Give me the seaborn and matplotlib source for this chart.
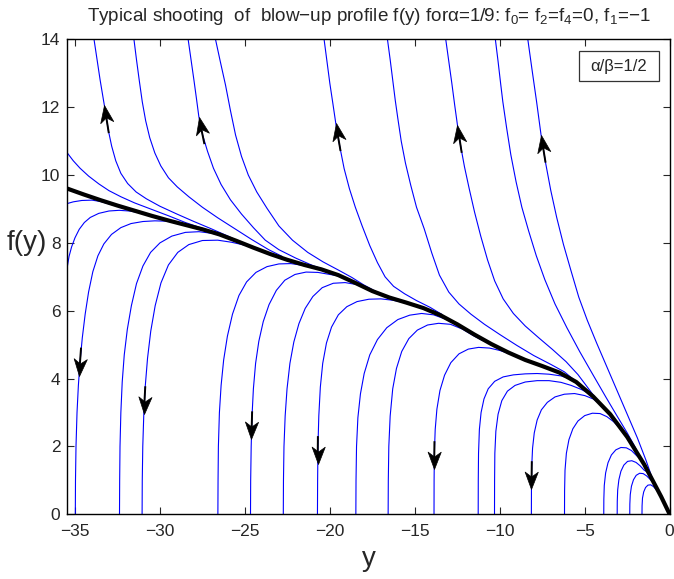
import numpy as np
import pandas as pd
import matplotlib
matplotlib.use("Agg")
import matplotlib.pyplot as plt
import seaborn as sns
from matplotlib.patches import Rectangle
from matplotlib.path import Path
from matplotlib.markers import MarkerStyle
from matplotlib.transforms import Affine2D

# separatrix (thick black profile) as (y, f) pairs
black = [(-35.45, 9.60), (-34.5, 9.43), (-33.5, 9.26), (-32.5, 9.10), (-31.5, 8.95),
         (-30.5, 8.80), (-29.5, 8.66), (-28.5, 8.53), (-27.5, 8.40), (-26.5, 8.25),
         (-25.5, 8.06), (-24.5, 7.86), (-23.5, 7.67), (-22.5, 7.50), (-21.5, 7.35),
         (-20.5, 7.22), (-19.5, 7.05), (-18.5, 6.82), (-17.5, 6.58), (-16.5, 6.39),
         (-15.5, 6.24), (-14.5, 6.08), (-13.5, 5.87), (-12.5, 5.60), (-11.5, 5.30),
         (-10.5, 5.02), (-9.5, 4.77), (-8.5, 4.55), (-7.5, 4.37), (-6.5, 4.18),
         (-5.5, 3.90), (-4.5, 3.47), (-3.5, 2.95), (-2.5, 2.28), (-1.5, 1.47),
         (-0.5, 0.52), (0.0, 0.0)]

# shooting curves that blow up (leave through the top / left edge)
u1 = [(-35.45, 10.65), (-35.1, 10.42), (-34.7, 10.2), (-34.2, 9.97), (-33.6, 9.74),
      (-33.0, 9.54), (-32.3, 9.36), (-31.5, 9.18), (-30.5, 8.99), (-29.5, 8.8),
      (-28.5, 8.6), (-27.5, 8.43), (-26.5, 8.26)]
u2 = [(-33.88, 14.0), (-33.7, 13.4), (-33.52, 12.8), (-33.27, 12.05), (-33.03, 11.3),
      (-32.84, 10.85), (-32.6, 10.42), (-32.3, 10.05), (-31.9, 9.75), (-31.4, 9.5),
      (-30.8, 9.3), (-30.0, 9.08), (-29.0, 8.85), (-28.0, 8.63), (-27.0, 8.42),
      (-26.0, 8.2), (-25.5, 8.08)]
u3 = [(-31.53, 14.0), (-31.38, 13.4), (-31.22, 12.8), (-31.04, 12.16), (-30.84, 11.6),
      (-30.6, 11.1), (-30.3, 10.65), (-29.95, 10.27), (-29.5, 9.92), (-28.98, 9.65),
      (-28.3, 9.36), (-27.5, 9.05), (-26.6, 8.74), (-25.6, 8.42), (-24.6, 8.1),
      (-23.6, 7.8), (-22.8, 7.6)]
u4 = [(-28.34, 14.0), (-28.17, 13.4), (-28.0, 12.8), (-27.85, 12.25), (-27.71, 11.72),
      (-27.5, 11.2), (-27.2, 10.7), (-26.85, 10.2), (-26.4, 9.72), (-25.85, 9.27),
      (-25.2, 8.85), (-24.5, 8.45), (-23.8, 8.08), (-23.0, 7.8), (-22.0, 7.55),
      (-21.0, 7.33), (-20.2, 7.19)]
u5 = [(-26.73, 14.0), (-26.45, 13.35), (-26.14, 12.65), (-25.85, 11.9), (-25.55, 11.18),
      (-25.2, 10.55), (-24.8, 10.0), (-24.3, 9.5), (-23.7, 9.02), (-23.0, 8.5),
      (-22.2, 8.08), (-21.3, 7.72), (-20.4, 7.44), (-19.5, 7.2), (-18.7, 6.98),
      (-18.0, 6.76), (-17.3, 6.57)]
u6 = [(-20.34, 14.0), (-20.17, 13.35), (-20.0, 12.7), (-19.82, 12.1), (-19.65, 11.52),
      (-19.42, 10.85), (-19.16, 10.19), (-18.85, 9.6), (-18.5, 9.05), (-18.1, 8.5),
      (-17.65, 7.92), (-17.2, 7.42), (-16.75, 7.0), (-16.25, 6.72), (-15.6, 6.5),
      (-14.9, 6.3), (-14.1, 6.1), (-13.4, 5.89)]
u7 = [(-16.61, 14.0), (-16.45, 13.4), (-16.3, 12.8), (-16.15, 12.2), (-16.0, 11.67),
      (-15.8, 11.0), (-15.55, 10.35), (-15.24, 9.70), (-14.9, 9.05), (-14.45, 8.42),
      (-14.0, 7.7), (-13.55, 7.05), (-13.0, 6.55), (-12.4, 6.2), (-11.7, 5.9),
      (-10.9, 5.6), (-10.0, 5.3), (-9.0, 4.98), (-8.0, 4.68), (-7.0, 4.42),
      (-6.2, 4.2), (-5.6, 3.95)]
u8 = [(-13.18, 14.0), (-13.0, 13.35), (-12.82, 12.7), (-12.65, 12.05), (-12.49, 11.47),
      (-12.3, 10.85), (-12.08, 10.25), (-11.8, 9.6), (-11.48, 8.9), (-11.12, 8.2),
      (-10.72, 7.5), (-10.3, 6.88), (-9.8, 6.35), (-9.2, 5.92), (-8.5, 5.55),
      (-7.7, 5.2), (-6.9, 4.86), (-6.1, 4.5), (-5.4, 4.12), (-4.8, 3.72), (-4.3, 3.38)]
u9 = [(-10.26, 14.0), (-10.1, 13.35), (-9.95, 12.7), (-9.82, 12.16), (-9.6, 11.4),
      (-9.35, 10.6), (-9.04, 9.8), (-8.7, 9.05), (-8.3, 8.35), (-7.85, 7.62),
      (-7.35, 6.92), (-6.75, 6.2), (-6.05, 5.5), (-5.3, 4.8), (-4.5, 4.1),
      (-3.75, 3.45), (-3.1, 2.9), (-2.5, 2.4), (-2.0, 1.95), (-1.8, 1.73)]
u10 = [(-8.35, 14.0), (-8.1, 13.1), (-7.83, 12.15), (-7.57, 11.18), (-7.3, 10.35),
       (-7.0, 9.55), (-6.65, 8.75), (-6.25, 7.95), (-5.82, 7.2), (-5.35, 6.4),
       (-4.85, 5.72), (-4.3, 5.05), (-3.7, 4.35), (-3.1, 3.65), (-2.5, 2.95),
       (-1.9, 2.25), (-1.4, 1.6), (-1.05, 1.1)]

# shooting curves that fall back to zero
e1 = [(-35.45, 9.16), (-35.1, 9.21), (-34.6, 9.25), (-34.0, 9.26), (-33.5, 9.22),
      (-33.0, 9.15), (-32.5, 9.08)]
e2 = [(-35.45, 7.3), (-35.35, 7.6), (-35.2, 7.88), (-35.0, 8.15), (-34.75, 8.4),
      (-34.45, 8.6), (-34.1, 8.75), (-33.6, 8.87), (-33.0, 8.94), (-32.4, 8.96),
      (-31.8, 8.94), (-31.2, 8.89), (-30.6, 8.81)]
l1 = [(-34.98, 0.0), (-34.97, 1.0), (-34.94, 2.0), (-34.88, 3.0), (-34.8, 3.8),
      (-34.7, 4.5), (-34.57, 5.2), (-34.4, 5.9), (-34.2, 6.55), (-33.95, 7.15),
      (-33.65, 7.62), (-33.3, 7.97), (-32.85, 8.25), (-32.3, 8.45), (-31.7, 8.57),
      (-31.0, 8.63), (-30.3, 8.65), (-29.6, 8.64), (-29.0, 8.6)]
l2 = [(-32.38, 0.0), (-32.37, 1.0), (-32.35, 2.0), (-32.3, 3.0), (-32.22, 3.9),
      (-32.1, 4.7), (-31.92, 5.45), (-31.68, 6.15), (-31.38, 6.8), (-31.0, 7.32),
      (-30.55, 7.72), (-30.0, 8.0), (-29.3, 8.2), (-28.5, 8.31), (-27.7, 8.33),
      (-26.9, 8.28), (-26.2, 8.2)]
l3 = [(-31.05, 0.0), (-31.04, 1.0), (-31.01, 2.0), (-30.95, 2.95), (-30.86, 3.8),
      (-30.73, 4.6), (-30.54, 5.4), (-30.28, 6.15), (-29.94, 6.82), (-29.5, 7.35),
      (-28.95, 7.72), (-28.3, 7.95), (-27.5, 8.07), (-26.6, 8.08), (-25.8, 8.02),
      (-24.7, 7.9)]
l4 = [(-26.59, 0.0), (-26.58, 1.0), (-26.56, 2.0), (-26.5, 3.0), (-26.4, 3.8),
      (-26.25, 4.55), (-26.03, 5.25), (-25.73, 5.9), (-25.35, 6.45), (-24.9, 6.85),
      (-24.35, 7.13), (-23.7, 7.3), (-23.0, 7.38), (-22.3, 7.39), (-21.6, 7.34),
      (-20.9, 7.27), (-20.3, 7.18)]
l5 = [(-24.67, 0.0), (-24.66, 1.0), (-24.63, 2.0), (-24.58, 2.9), (-24.5, 3.7),
      (-24.37, 4.45), (-24.18, 5.1), (-23.92, 5.68), (-23.58, 6.18), (-23.15, 6.6),
      (-22.65, 6.9), (-22.05, 7.07), (-21.4, 7.14), (-20.7, 7.13), (-20.0, 7.07),
      (-19.4, 7.02)]
l6 = [(-22.74, 0.0), (-22.73, 1.0), (-22.7, 2.0), (-22.63, 2.9), (-22.52, 3.7),
      (-22.35, 4.45), (-22.12, 5.08), (-21.82, 5.62), (-21.45, 6.07), (-21.0, 6.42),
      (-20.45, 6.68), (-19.8, 6.81), (-19.1, 6.83), (-18.4, 6.77), (-17.7, 6.6)]
l7 = [(-20.73, 0.0), (-20.72, 1.0), (-20.7, 2.0), (-20.65, 2.9), (-20.56, 3.75),
      (-20.42, 4.45), (-20.2, 5.05), (-19.9, 5.52), (-19.5, 5.88), (-19.0, 6.12),
      (-18.4, 6.27), (-17.7, 6.34), (-17.0, 6.35), (-16.3, 6.31), (-15.6, 6.24),
      (-15.0, 6.16)]
l8 = [(-18.47, 0.0), (-18.46, 1.0), (-18.43, 2.0), (-18.35, 2.85), (-18.2, 3.55),
      (-17.98, 4.15), (-17.65, 4.7), (-17.2, 5.15), (-16.65, 5.5), (-16.0, 5.74),
      (-15.3, 5.87), (-14.6, 5.92), (-13.9, 5.88), (-13.0, 5.72)]
l9 = [(-16.57, 0.0), (-16.56, 1.0), (-16.53, 2.0), (-16.45, 2.9), (-16.3, 3.7),
      (-16.08, 4.3), (-15.77, 4.8), (-15.35, 5.18), (-14.85, 5.43), (-14.25, 5.58),
      (-13.6, 5.63), (-12.9, 5.6), (-12.2, 5.46), (-11.6, 5.28), (-11.0, 5.12)]
l10 = [(-13.87, 0.0), (-13.865, 1.0), (-13.85, 1.8), (-13.8, 2.5), (-13.7, 3.1),
       (-13.52, 3.65), (-13.25, 4.1), (-12.88, 4.47), (-12.4, 4.73), (-11.85, 4.87),
       (-11.25, 4.92), (-10.6, 4.9), (-10.0, 4.83), (-9.4, 4.73), (-8.8, 4.6)]
l11 = [(-11.27, 0.0), (-11.265, 1.0), (-11.25, 1.8), (-11.2, 2.5), (-11.1, 3.0),
       (-10.93, 3.4), (-10.68, 3.7), (-10.3, 3.92), (-9.8, 4.05), (-9.2, 4.11),
       (-8.5, 4.14), (-7.8, 4.15), (-7.1, 4.13), (-6.4, 4.08), (-5.8, 3.98)]
l12 = [(-10.31, 0.0), (-10.305, 1.0), (-10.29, 1.8), (-10.23, 2.45), (-10.1, 2.95),
       (-9.88, 3.35), (-9.55, 3.63), (-9.1, 3.8), (-8.5, 3.9), (-7.8, 3.94),
       (-7.1, 3.94), (-6.4, 3.89), (-5.8, 3.8), (-5.2, 3.68), (-4.7, 3.55)]
l13 = [(-8.14, 0.0), (-8.135, 0.8), (-8.12, 1.4), (-8.07, 1.95), (-7.97, 2.4),
       (-7.8, 2.78), (-7.55, 3.08), (-7.2, 3.3), (-6.75, 3.46), (-6.2, 3.54),
       (-5.6, 3.56), (-5.0, 3.5), (-4.5, 3.4), (-4.0, 3.21), (-3.7, 3.05)]
l14 = [(-6.19, 0.0), (-6.185, 0.7), (-6.16, 1.3), (-6.08, 1.8), (-5.93, 2.2),
       (-5.7, 2.52), (-5.4, 2.75), (-5.0, 2.91), (-4.55, 2.98), (-4.1, 2.97),
       (-3.7, 2.88), (-3.3, 2.73), (-2.95, 2.55), (-2.65, 2.39)]
l15 = [(-3.88, 0.0), (-3.875, 0.45), (-3.85, 0.85), (-3.77, 1.22), (-3.63, 1.52),
       (-3.43, 1.75), (-3.17, 1.9), (-2.87, 1.97), (-2.55, 1.96), (-2.25, 1.88),
       (-1.97, 1.74), (-1.6, 1.57)]
l16 = [(-3.09, 0.0), (-3.085, 0.38), (-3.06, 0.72), (-2.99, 1.02), (-2.87, 1.27),
       (-2.7, 1.45), (-2.48, 1.56), (-2.23, 1.58), (-1.98, 1.53), (-1.74, 1.43),
       (-1.5, 1.3), (-1.25, 1.23)]
l17 = [(-2.35, 0.0), (-2.345, 0.3), (-2.32, 0.58), (-2.25, 0.83), (-2.13, 1.02),
       (-1.97, 1.15), (-1.77, 1.21), (-1.56, 1.2), (-1.35, 1.13), (-1.15, 1.03),
       (-0.95, 0.93)]
l18 = [(-1.63, 0.0), (-1.625, 0.25), (-1.6, 0.48), (-1.53, 0.66), (-1.42, 0.79),
       (-1.28, 0.86), (-1.12, 0.87), (-0.96, 0.82), (-0.8, 0.73), (-0.65, 0.64)]

blue_curves = {"u1": u1, "u2": u2, "u3": u3, "u4": u4, "u5": u5, "u6": u6, "u7": u7,
               "u8": u8, "u9": u9, "u10": u10, "e1": e1, "e2": e2, "l1": l1, "l2": l2,
               "l3": l3, "l4": l4, "l5": l5, "l6": l6, "l7": l7, "l8": l8, "l9": l9,
               "l10": l10, "l11": l11, "l12": l12, "l13": l13, "l14": l14, "l15": l15,
               "l16": l16, "l17": l17, "l18": l18}

# arrow heads: which curve, where the tip sits, which way it points
arrow_curve = ["u2", "u4", "u6", "u8", "u10", "l1", "l3", "l5", "l7", "l10", "l13"]
arrow_tip_x = [-33.27, -27.71, -19.65, -12.49, -7.57, -34.76, -30.95, -24.62, -20.72, -13.86, -8.135]
arrow_tip_y = [12.05, 11.72, 11.52, 11.47, 11.18, 4.09, 2.95, 2.21, 1.48, 1.33, 0.74]
arrow_dir = ["up"] * 5 + ["down"] * 6

x_ticks = [-35, -30, -25, -20, -15, -10, -5, 0]
y_ticks = [0, 2, 4, 6, 8, 10, 12, 14]

# notched (matlab-like) arrow head, tip at the origin, pointing to +x
head_path = Path([(0, 0), (-1, 0.38), (-0.72, 0), (-1, -0.38), (0, 0)],
                 [Path.MOVETO, Path.LINETO, Path.LINETO, Path.LINETO, Path.CLOSEPOLY])


def add_arrow(ax, pts, tip, direction, shaft=28, head=17):
    xy = ax.transData.transform(np.array(pts))
    t = ax.transData.transform(tip)
    i = int(np.argmin(np.linalg.norm(xy - t, axis=1)))
    a, b = (i, i + 1) if i + 1 < len(xy) else (i - 1, i)
    v = xy[b] - xy[a]
    v = v / np.linalg.norm(v)
    if (direction == "up") != (v[1] > 0):
        v = -v
    inv = ax.transData.inverted()
    tail = inv.transform(t - v * shaft)
    neck = inv.transform(t - v * head * 0.7)
    ax.plot([tail[0], neck[0]], [tail[1], neck[1]], color="black", lw=1.4,
            solid_capstyle="butt", zorder=5)
    ang = np.degrees(np.arctan2(v[1], v[0]))
    m = MarkerStyle(head_path, transform=Affine2D().rotate_deg(ang))
    ax.plot([tip[0]], [tip[1]], marker=m, ms=25, color="black", mec="black",
            mew=0.5, ls="none", zorder=6)


sns.set_style("ticks")
plt.rcParams["font.family"] = ["Liberation Sans", "DejaVu Sans"]
plt.rcParams["mathtext.fontset"] = "custom"
plt.rcParams["mathtext.rm"] = "Liberation Sans"
plt.rcParams["mathtext.it"] = "Liberation Sans"
plt.rcParams["mathtext.default"] = "regular"
plt.rcParams["xtick.direction"] = "in"
plt.rcParams["ytick.direction"] = "in"

rows = []
for name, pts in blue_curves.items():
    for x, y in pts:
        rows.append({"curve": name, "y": x, "f": y})
blue_df = pd.DataFrame(rows)
black_df = pd.DataFrame(black, columns=["y", "f"])

fig = plt.figure(figsize=(6.74, 5.79), dpi=100)
ax = fig.add_axes([0.0999, 0.1117, 0.8937, 0.8204])

sns.lineplot(data=blue_df, x="y", y="f", units="curve", estimator=None, sort=False,
             color="#0000ff", lw=0.8, ax=ax, zorder=2)
sns.lineplot(data=black_df, x="y", y="f", estimator=None, sort=False,
             color="black", lw=3.0, ax=ax, zorder=3, solid_joinstyle="round")

ax.set_xlim(-35.45, 0)
ax.set_ylim(0, 14)
ax.set_xticks(x_ticks)
ax.set_yticks(y_ticks)
ax.tick_params(axis="both", which="both", direction="in", length=5, width=0.8,
               top=True, right=True, labelsize=12.5)
ax.tick_params(axis="x", pad=7)
ax.tick_params(axis="y", pad=5)
for s in ax.spines.values():
    s.set_linewidth(1.0)
    s.set_color("black")

for name, tx, ty, d in zip(arrow_curve, arrow_tip_x, arrow_tip_y, arrow_dir):
    add_arrow(ax, blue_curves[name], (tx, ty), d)

ax.set_xlabel("y", fontsize=20, labelpad=5)
ax.set_ylabel("f(y)", fontsize=20, rotation=0, ha="center", va="center")
ax.yaxis.set_label_coords(-0.067, 0.571)
ax.set_title(r"Typical shooting  of  blow$-$up profile f(y) forα=1/9: f$_0$= f$_2$=f$_4$=0, f$_1$=$-$1",
             fontsize=13.6, pad=13)

ax.add_patch(Rectangle((0.849, 0.912), 0.1327, 0.063, transform=ax.transAxes,
                       facecolor="white", edgecolor="#333333", lw=0.9, zorder=6))
ax.text(0.9155, 0.9435, "α/β=1/2", transform=ax.transAxes, ha="center", va="center",
        fontsize=12, zorder=7)

fig.savefig("out.png", dpi=100)
